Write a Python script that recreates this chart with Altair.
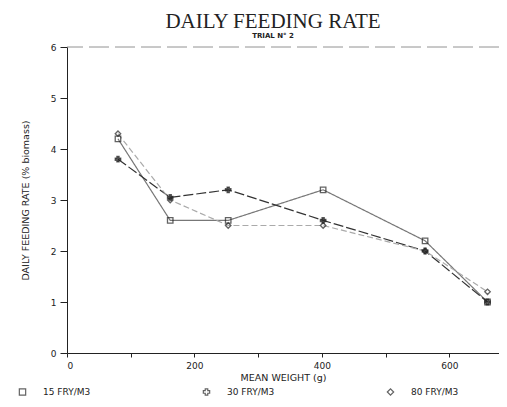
import altair as alt
import pandas as pd

weights = [80, 162, 253, 402, 562, 660]
fry15 = [4.2, 2.6, 2.6, 3.2, 2.2, 1.0]
fry30 = [3.8, 3.05, 3.2, 2.6, 2.0, 1.0]
fry80 = [4.3, 3.0, 2.5, 2.5, 2.0, 1.2]
series_names = ["15 FRY/M3", "30 FRY/M3", "80 FRY/M3"]

rows = []
for name, vals in zip(series_names, [fry15, fry30, fry80]):
    for w, v in zip(weights, vals):
        rows.append({"weight": w, "rate": v, "series": name, "grp": name})
df = pd.DataFrame(rows)

FONT = "DejaVu Sans"

x = alt.X("weight:Q",
          scale=alt.Scale(domain=[0, 678], nice=False, zero=True),
          axis=alt.Axis(values=[0, 100, 200, 300, 400, 500, 600],
                        labelExpr="datum.value % 200 == 0 ? datum.label : ''",
                        title="MEAN WEIGHT (g)", grid=False, tickSize=4,
                        labelFontSize=9, titleFontSize=9.5, labelFont=FONT, titleFont=FONT,
                        titleFontWeight="normal", labelPadding=4, titlePadding=2,
                        domainColor="#222", tickColor="#222", labelColor="#222", titleColor="#222"))
y = alt.Y("rate:Q",
          scale=alt.Scale(domain=[0, 6], nice=False),
          axis=alt.Axis(values=[0, 1, 2, 3, 4, 5, 6], title="DAILY FEEDING RATE (% biomass)",
                        grid=False, tickSize=7, labelFontSize=9, titleFontSize=9.5,
                        labelFont=FONT, titleFont=FONT, titleFontWeight="normal",
                        labelPadding=4, titlePadding=20,
                        domainColor="#222", tickColor="#222", labelColor="#222", titleColor="#222"))

# line styles keyed on a separate field so the disabled legends don't merge with the shape legend
color_scale = alt.Scale(range=["#777777", "#333333", "#aaaaaa"])
dash_scale = alt.Scale(range=[[1, 0], [10, 3], [6, 3]])
shape_scale = alt.Scale(domain=series_names, range=["square", "cross", "diamond"])

base = alt.Chart(df)

lines = base.mark_line(strokeWidth=1.2).encode(
    x=x, y=y,
    color=alt.Color("grp:N", scale=color_scale, legend=None),
    strokeDash=alt.StrokeDash("grp:N", scale=dash_scale, legend=None),
    detail="grp:N",
)

points = base.mark_point(size=30, strokeWidth=1.3, color="#222", filled=False).encode(
    x=x, y=y,
    shape=alt.Shape("series:N", scale=shape_scale,
                    legend=alt.Legend(title=None, orient="none", direction="horizontal",
                                      legendX=-49, legendY=340, columnPadding=109,
                                      labelFont=FONT, labelFontSize=9, labelColor="#222",
                                      labelOffset=16, symbolSize=40, symbolStrokeColor="#222",
                                      symbolFillColor="transparent",
                                      symbolStrokeWidth=1.2)),
)

points30 = alt.Chart(df[df["series"] == "30 FRY/M3"]).mark_point(
    size=30, filled=True, color="#222", shape="cross").encode(x=x, y=y)

top_rule = alt.Chart(pd.DataFrame({"v": [6]})).mark_rule(strokeDash=[20, 6], color="#777", strokeWidth=0.8).encode(
    y=alt.Y("v:Q", scale=alt.Scale(domain=[0, 6], nice=False))
)

chart = alt.layer(top_rule, lines, points, points30).properties(
    width=432, height=306,
    autosize=alt.AutoSizeParams(type="none"),
    padding={"left": 59, "top": 39, "right": 0, "bottom": 46},
    title=alt.TitleParams(text="DAILY FEEDING RATE", subtitle="TRIAL N° 2",
                          font="Liberation Serif", fontSize=21, fontWeight="normal",
                          subtitleFont=FONT, subtitleFontSize=7, subtitleFontWeight="bold",
                          color="#222", subtitleColor="#222", anchor="middle", dx=-10,
                          offset=4, subtitlePadding=0),
).configure_view(stroke=None)

chart.save("out.html", embed_options={"renderer": "svg", "actions": False})
